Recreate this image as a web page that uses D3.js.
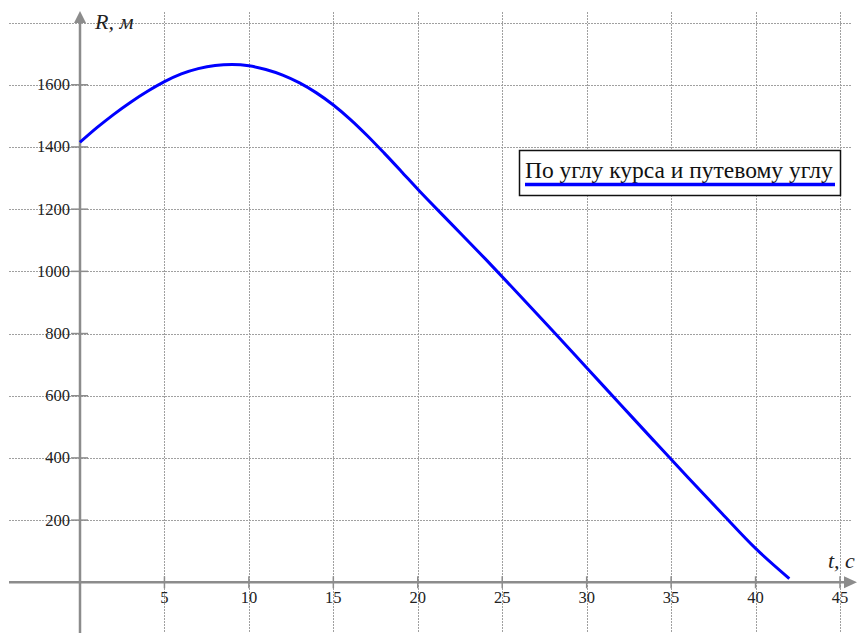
<!DOCTYPE html>
<html>
<head>
<meta charset="utf-8">
<script src="https://cdn.jsdelivr.net/npm/d3@7"></script>
<style>
  body { margin: 0; background: #fff; }
  svg { display: block; }
  text { font-family: "Liberation Serif", "Times New Roman", serif; }
</style>
</head>
<body>
<svg width="857" height="633"></svg>
<script>
// time, s
const T_VALUES = [0, 1, 2, 3, 4, 5, 6, 7, 8, 9, 10, 11, 12, 13, 14, 15, 16, 17, 18, 19, 20,
    22, 24, 26, 28, 30, 32, 34, 36, 38, 40, 42];
// range, m
const R_VALUES = [1415, 1462, 1505, 1544, 1579, 1610, 1635, 1652, 1662, 1665, 1661, 1649, 1631, 1606, 1574, 1535, 1489, 1437, 1381, 1323, 1264,
    1152, 1040, 925, 808, 690, 572, 454, 337, 222, 109, 12];

const X_TICKS = [5, 10, 15, 20, 25, 30, 35, 40, 45];
const Y_TICKS = [200, 400, 600, 800, 1000, 1200, 1400, 1600];
const GRID_Y = [200, 400, 600, 800, 1000, 1200, 1400, 1600, 1800];
const LEGEND_LABEL = "По углу курса и путевому углу";

const xScale = d3.scaleLinear()
    .domain([0, 45])
    .range([80, 840]);

const yScale = d3.scaleLinear()
    .domain([0, 1800])
    .range([582.3, 22.6]);

const svg = d3.select('svg');
const AXIS = '#8c8c8c';
const GRID = '#a0a0a0';

// grid
svg.append('g')
    .selectAll('line')
    .data(GRID_Y)
    .enter()
    .append('line')
    .attr('x1', 9)
    .attr('x2', 852)
    .attr('y1', d => Math.round(yScale(d)) + 0.5)
    .attr('y2', d => Math.round(yScale(d)) + 0.5)
    .attr('stroke', GRID)
    .attr('stroke-dasharray', '2,1');

svg.append('g')
    .selectAll('line')
    .data(X_TICKS)
    .enter()
    .append('line')
    .attr('x1', d => Math.round(xScale(d)) + 0.5)
    .attr('x2', d => Math.round(xScale(d)) + 0.5)
    .attr('y1', 12)
    .attr('y2', 633)
    .attr('stroke', GRID)
    .attr('stroke-dasharray', '2,1');

// axes
svg.append('line')
    .attr('x1', 9).attr('x2', 846)
    .attr('y1', yScale(0)).attr('y2', yScale(0))
    .attr('stroke', AXIS).attr('stroke-width', 2.5);
svg.append('path')
    .attr('d', `M857,${yScale(0)} L844,${yScale(0) - 6} L844,${yScale(0) + 6} Z`)
    .attr('fill', AXIS);

svg.append('line')
    .attr('x1', xScale(0)).attr('x2', xScale(0))
    .attr('y1', 22).attr('y2', 633)
    .attr('stroke', AXIS).attr('stroke-width', 2.5);
svg.append('path')
    .attr('d', `M${xScale(0)},11 L${xScale(0) - 6},23 L${xScale(0) + 6},23 Z`)
    .attr('fill', AXIS);

// tick marks
svg.append('g')
    .selectAll('line')
    .data(Y_TICKS)
    .enter()
    .append('line')
    .attr('x1', xScale(0) - 9).attr('x2', xScale(0) + 8)
    .attr('y1', d => yScale(d)).attr('y2', d => yScale(d))
    .attr('stroke', AXIS).attr('stroke-width', 1.5);

svg.append('g')
    .selectAll('line')
    .data(X_TICKS)
    .enter()
    .append('line')
    .attr('x1', d => xScale(d)).attr('x2', d => xScale(d))
    .attr('y1', yScale(0) - 6).attr('y2', yScale(0) + 6)
    .attr('stroke', AXIS).attr('stroke-width', 1.5);

// tick labels
svg.append('g')
    .selectAll('text')
    .data(Y_TICKS)
    .enter()
    .append('text')
    .attr('x', 70)
    .attr('y', d => yScale(d) + 5.5)
    .attr('text-anchor', 'end')
    .attr('font-size', 16.5)
    .attr('fill', '#222')
    .text(d => d);

svg.append('g')
    .selectAll('text')
    .data(X_TICKS)
    .enter()
    .append('text')
    .attr('x', d => xScale(d))
    .attr('y', yScale(0) + 21)
    .attr('text-anchor', 'middle')
    .attr('font-size', 16.5)
    .attr('fill', '#222')
    .text(d => d);

// axis titles
svg.append('text')
    .attr('x', 95).attr('y', 29)
    .attr('font-size', 22)
    .attr('font-style', 'italic')
    .attr('fill', '#222')
    .text('R, м');

svg.append('text')
    .attr('x', 828).attr('y', 568)
    .attr('font-size', 22)
    .attr('font-style', 'italic')
    .attr('fill', '#222')
    .text('t, c');

// curve
const line = d3.line()
    .x((d, i) => xScale(T_VALUES[i]))
    .y(d => yScale(d))
    .curve(d3.curveMonotoneX);

svg.append('path')
    .datum(R_VALUES)
    .attr('d', line)
    .attr('fill', 'none')
    .attr('stroke', '#0000ff')
    .attr('stroke-width', 3);

// legend
const legend = svg.append('g');
legend.append('rect')
    .attr('x', 519.5).attr('y', 150.5)
    .attr('width', 321).attr('height', 45)
    .attr('fill', '#fff')
    .attr('stroke', '#111').attr('stroke-width', 1.5);
legend.append('text')
    .attr('x', 525).attr('y', 178)
    .attr('font-size', 23.5)
    .attr('fill', '#111')
    .text(LEGEND_LABEL);
legend.append('line')
    .attr('x1', 525).attr('x2', 835)
    .attr('y1', 184.5).attr('y2', 184.5)
    .attr('stroke', '#0000ff').attr('stroke-width', 3.5);
</script>
</body>
</html>
